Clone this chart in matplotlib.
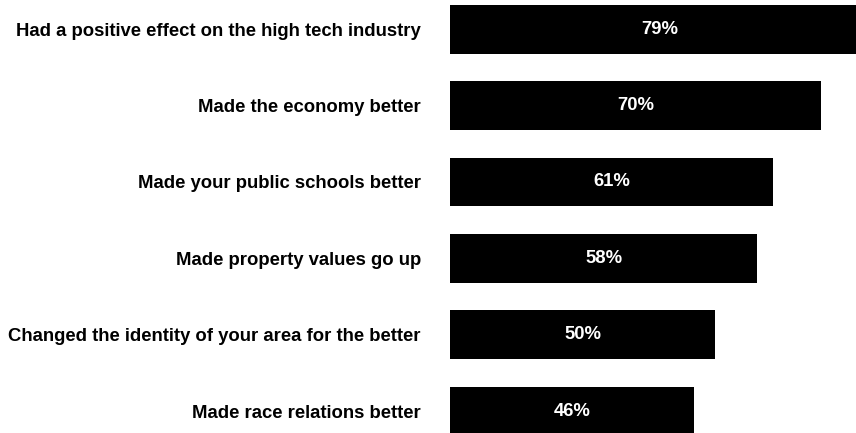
import matplotlib
matplotlib.use("Agg")
import matplotlib.pyplot as plt

categories = [
    "Had a positive effect on the high tech industry",
    "Made the economy better",
    "Made your public schools better",
    "Made property values go up",
    "Changed the identity of your area for the better",
    "Made race relations better",
]
values = [79, 70, 61, 58, 50, 46]
value_labels = ["79%", "70%", "61%", "58%", "50%", "46%"]

plt.rcParams['font.family'] = ['Liberation Sans', 'DejaVu Sans']

fig = plt.figure(figsize=(8.56, 4.33), dpi=100)
ax = fig.add_axes([450/856, 0, (856-450)/856, 1])

px_per_unit = 5.3
ax.set_xlim(0, (856-450)/px_per_unit)
ypos = list(range(len(categories)))
ax.barh(ypos, values, height=0.635, color='black')
ax.set_ylim(5 + 22/76.4, -29.3/76.4)

for y, v, lab in zip(ypos, values, value_labels):
    ax.text(v/2, y, lab, ha='center', va='center', color='white',
            fontsize=13.3, fontweight='bold')

for s in ax.spines.values():
    s.set_visible(False)
ax.set_xticks([])
ax.set_yticks(ypos)
ax.set_yticklabels(categories, fontsize=13.3, fontweight='bold')
ax.tick_params(axis='y', length=0, pad=21)

fig.savefig("out.png", dpi=100)
